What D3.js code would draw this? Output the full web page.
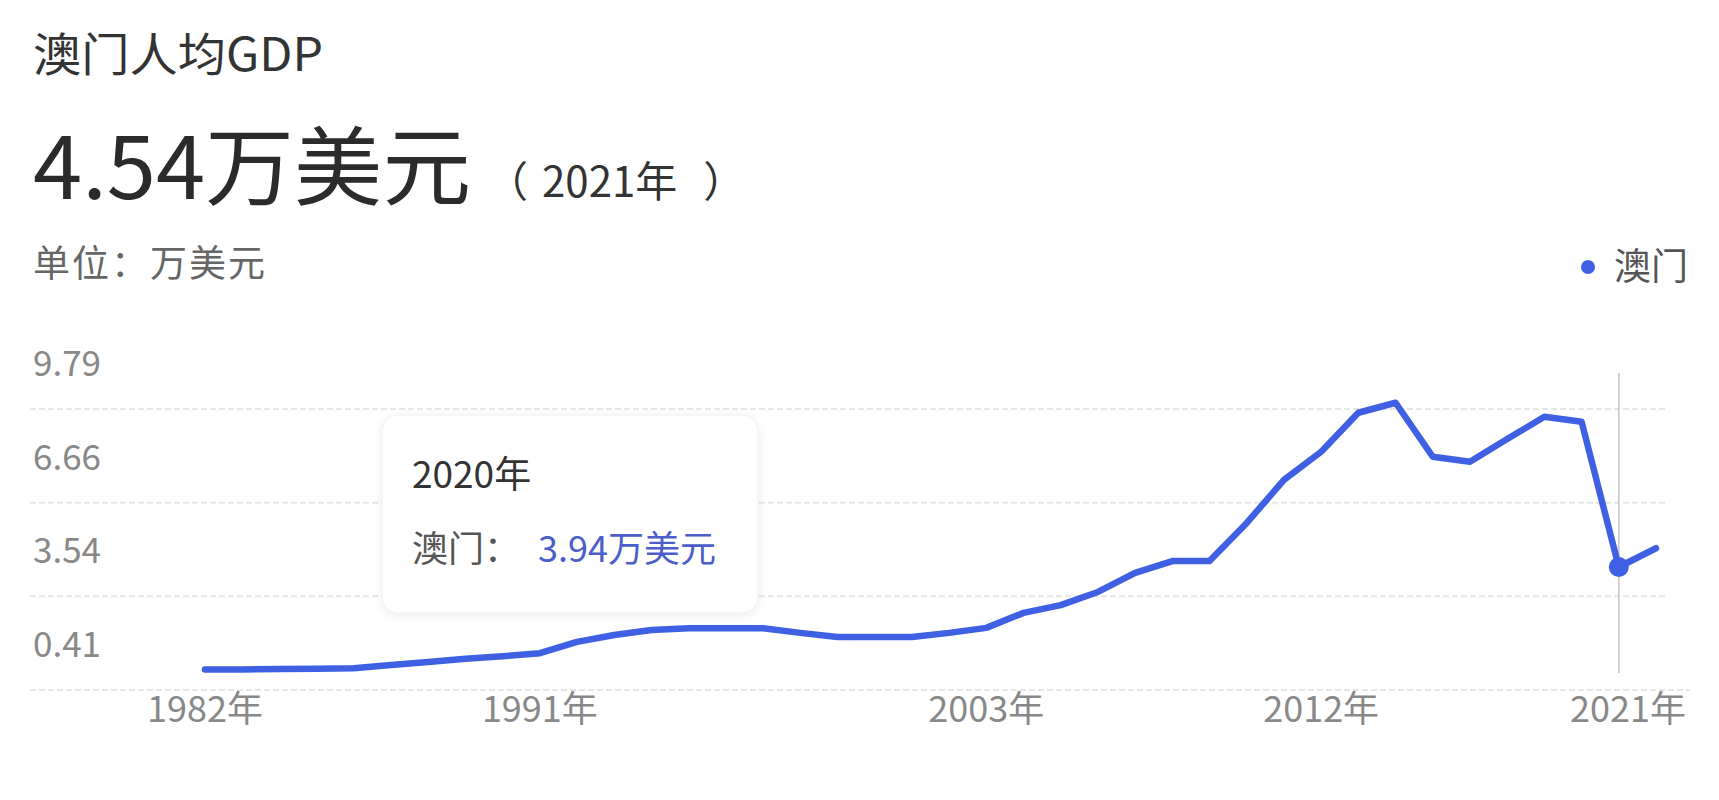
<!DOCTYPE html>
<html>
<head>
<meta charset="utf-8">
<script src="https://cdn.jsdelivr.net/npm/d3@7"></script>
<style>
  html, body { margin: 0; padding: 0; background: #fff; }
  svg { display: block; font-family: "Noto Sans CJK SC", "Noto Sans", sans-serif; }
</style>
</head>
<body>
<svg id="chart" width="1719" height="800"></svg>
<script>
// ---- data ----
const years = [1982,1983,1984,1985,1986,1987,1988,1989,1990,1991,
               1992,1993,1994,1995,1996,1997,1998,1999,2000,2001,
               2002,2003,2004,2005,2006,2007,2008,2009,2010,2011,
               2012,2013,2014,2015,2016,2017,2018,2019,2020,2021];
const gdpPerCapita = [0.66,0.66,0.67,0.68,0.70,0.80,0.90,1.00,1.08,1.18,
                      1.54,1.76,1.92,1.98,1.98,1.98,1.83,1.70,1.70,1.70,
                      1.83,1.99,2.47,2.72,3.14,3.75,4.13,4.13,5.35,6.73,
                      7.63,8.88,9.20,7.47,7.31,8.04,8.75,8.59,3.94,4.54];
const xTickYears = [1982, 1991, 2003, 2012, 2021];
const yTickLabels = ["0.41", "3.54", "6.66", "9.79"];
const gridValues = [0, 3, 6, 9];
const seriesName = "澳门";
const titleText = "澳门人均GDP";
const headlineValue = "4.54万美元";
const headlineYearParts = ["（", "2021年", "）"];
const unitText = "单位：万美元";
const hoverYear = 2020;

const blue = "#3f60e2";
const svg = d3.select("#chart");

// ---- scales ----
const x = d3.scaleLinear().domain([1982, 2021]).range([205, 1656]);
const y = d3.scaleLinear().domain([0, 9]).range([690, 409]);

// ---- header ----
svg.append("text").attr("x", 33).attr("y", 71)
  .attr("font-size", 46).attr("fill", "#333")
  .attr("textLength", 290).attr("lengthAdjust", "spacingAndGlyphs").text(titleText);
svg.append("text").attr("x", 33).attr("y", 199)
  .attr("font-size", 86).attr("fill", "#2b2b2b")
  .attr("textLength", 438).attr("lengthAdjust", "spacingAndGlyphs").text(headlineValue);
const hy = svg.append("text").attr("x", 486).attr("y", 197)
  .attr("font-size", 42).attr("fill", "#333");
hy.selectAll("tspan").data(headlineYearParts).join("tspan")
  .attr("dx", (d, i) => i === 0 ? 0 : (i === 1 ? 14 : 26)).text(d => d);
svg.append("text").attr("x", 33).attr("y", 277)
  .attr("font-size", 37).attr("fill", "#666")
  .attr("textLength", 232).attr("lengthAdjust", "spacing").text(unitText);

// legend
svg.append("circle").attr("cx", 1588).attr("cy", 267).attr("r", 7).attr("fill", blue);
svg.append("text").attr("x", 1614).attr("y", 280)
  .attr("font-size", 37).attr("fill", "#555").text(seriesName);

// ---- grid ----
svg.append("g").selectAll("line").data(gridValues).join("line")
  .attr("x1", 30).attr("x2", (d, i) => i === 0 ? 1690 : 1665)
  .attr("y1", d => y(d)).attr("y2", d => y(d))
  .attr("stroke", "#e6e6e6").attr("stroke-width", 2)
  .attr("stroke-dasharray", "6,3");

// y labels (drawn above each grid line)
svg.append("g").selectAll("text").data(yTickLabels).join("text")
  .attr("x", 33).attr("y", (d, i) => y(gridValues[i]) - 33)
  .attr("font-size", 35).attr("fill", "#888").text(d => d);

// x labels
const xl = svg.append("g").selectAll("text").data(xTickYears).join("text")
  .attr("y", 722).attr("font-size", 36).attr("fill", "#888")
  .attr("text-anchor", "middle").text(d => d + "年");
xl.attr("x", function(d) {
  const w = this.getComputedTextLength();
  return Math.min(x(d), 1686 - w / 2);
});

// hover line
svg.append("line").attr("x1", x(hoverYear)).attr("x2", x(hoverYear))
  .attr("y1", 373).attr("y2", 673).attr("stroke", "#c4c4c4").attr("stroke-width", 1.5);

// ---- line ----
const data = years.map((yr, i) => ({ yr, v: gdpPerCapita[i] }));
const line = d3.line().x(d => x(d.yr)).y(d => y(d.v)).curve(d3.curveLinear);
svg.append("path").datum(data).attr("d", line)
  .attr("fill", "none").attr("stroke", blue).attr("stroke-width", 6.5)
  .attr("stroke-linejoin", "round").attr("stroke-linecap", "round");

const hv = data.find(d => d.yr === hoverYear);
svg.append("circle").attr("cx", x(hv.yr)).attr("cy", y(hv.v)).attr("r", 10).attr("fill", blue);

// ---- tooltip ----
const defs = svg.append("defs");
const f = defs.append("filter").attr("id", "sh").attr("x", "-10%").attr("y", "-10%")
  .attr("width", "120%").attr("height", "130%");
f.append("feDropShadow").attr("dx", 0).attr("dy", 2).attr("stdDeviation", 4)
  .attr("flood-color", "#000").attr("flood-opacity", 0.08);
const tip = svg.append("g").attr("transform", "translate(382,415)");
tip.append("rect").attr("width", 376).attr("height", 198).attr("rx", 16)
  .attr("fill", "#fff").attr("stroke", "#f0f0f0").attr("filter", "url(#sh)");
tip.append("text").attr("x", 30).attr("y", 73).attr("font-size", 37)
  .attr("fill", "#333").text(hv.yr + "年");
const t2 = tip.append("text").attr("x", 30).attr("y", 147).attr("font-size", 36);
t2.append("tspan").attr("fill", "#555").text(seriesName + "：");
t2.append("tspan").attr("fill", "#4b5ec9").attr("dx", 18).text(hv.v.toFixed(2) + "万美元");
</script>
</body>
</html>
